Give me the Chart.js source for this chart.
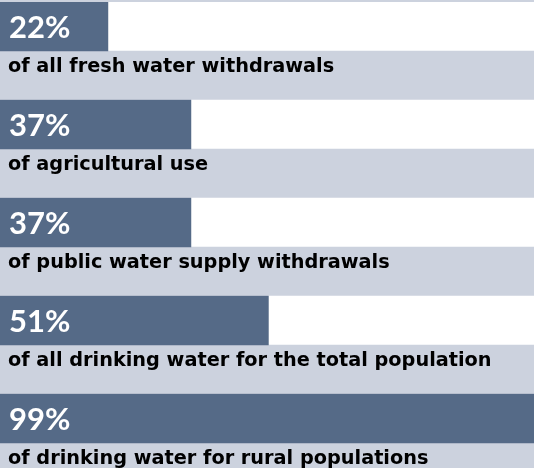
<!DOCTYPE html>
<html>
<head>
<meta charset="utf-8">
<script src="https://cdn.jsdelivr.net/npm/chart.js@4/dist/chart.umd.min.js"></script>
<style>
  html, body { margin: 0; padding: 0; overflow: hidden; background: #ccd2de; }
  #wrap { position: absolute; left: 0; top: 2px; width: 534px; height: 490px; }
</style>
</head>
<body>
<div id="wrap"><canvas id="myChart"></canvas></div>
<script>
// shares of water use
var percents = [22, 37, 37, 51, 99];
var percentLabels = ["22%", "37%", "37%", "51%", "99%"];
var captions = [
  "of all fresh water withdrawals",
  "of agricultural use",
  "of public water supply withdrawals",
  "of all drinking water for the total population",
  "of drinking water for rural populations"
];
var axisMin = 2.5;
var axisMax = 99;

var DARK = "#556a87";
var LIGHT = "#ccd2de";

// every share gets two rows: the bar row and the caption row
var rows = [];
var barData = [];
var trackData = [];
var trackColors = [];
for (var i = 0; i < percents.length; i++) {
  rows.push("p" + i);
  barData.push(percents[i]);
  trackData.push(100);
  trackColors.push("#ffffff");
  rows.push("c" + i);
  barData.push(null);
  trackData.push(100);
  trackColors.push(LIGHT);
}

var textPlugin = {
  id: "rowText",
  afterDatasetsDraw: function(chart) {
    var ctx = chart.ctx;
    var y = chart.scales.y;
    ctx.save();
    ctx.textBaseline = "alphabetic";
    for (var i = 0; i < percents.length; i++) {
      var yp = y.getPixelForValue(2 * i);
      var yc = y.getPixelForValue(2 * i + 1);
      ctx.fillStyle = "#ffffff";
      ctx.font = "bold 31px Lato";
      ctx.fillText(percentLabels[i], 9, yp + 11.5);
      ctx.fillStyle = "#000000";
      ctx.font = "bold 19.3px 'DejaVu Sans'";
      ctx.fillText(captions[i], 8, yc - 3.5);
    }
    ctx.restore();
  }
};

var ctx = document.getElementById("myChart");
var chart = new Chart(ctx, {
  type: "bar",
  data: {
    labels: rows,
    datasets: [{
      label: "share",
      data: barData,
      backgroundColor: DARK,
      borderWidth: 0
    }, {
      label: "track",
      data: trackData,
      backgroundColor: trackColors,
      borderWidth: 0
    }]
  },
  options: {
    indexAxis: "y",
    responsive: true,
    maintainAspectRatio: false,
    animation: false,
    grouped: false,
    categoryPercentage: 1,
    barPercentage: 1,
    layout: { padding: 0 },
    plugins: {
      legend: { display: false },
      tooltip: { enabled: false }
    },
    scales: {
      x: { display: false, min: axisMin, max: axisMax, grid: { display: false } },
      y: { display: false, grid: { display: false } }
    }
  },
  plugins: [textPlugin]
});
</script>
</body>
</html>
